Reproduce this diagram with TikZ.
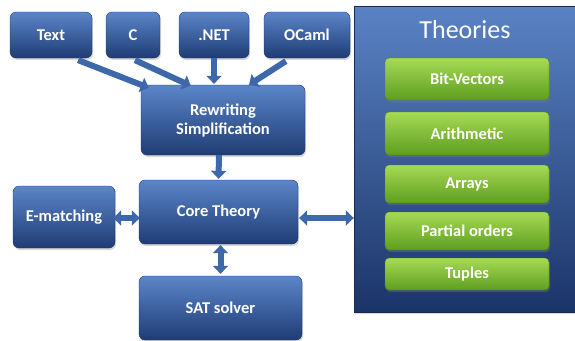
\documentclass[tikz,border=0pt]{standalone}
\usepackage{fontspec}
\setmainfont{Carlito}
\usetikzlibrary{arrows.meta,shadows,calc}
\definecolor{boxtop}{HTML}{5B86C9}
\definecolor{boxbot}{HTML}{1F3C74}
\definecolor{pantop}{HTML}{5A83C4}
\definecolor{panbot}{HTML}{1B3468}
\definecolor{grntop}{HTML}{A6DA55}
\definecolor{grnbot}{HTML}{5E9E1F}
\definecolor{arrblue}{HTML}{3D68AA}
\tikzset{
  blk/.style={rounded corners=6pt, top color=boxtop, bottom color=boxbot,
    draw=boxbot!80!black, line width=.3pt, text=white,
    font=\bfseries\fontsize{16.5}{19}\selectfont, align=center, inner sep=0pt,
    drop shadow={opacity=.3, shadow xshift=1pt, shadow yshift=-2pt}},
  grn/.style={rounded corners=4pt, top color=grntop, bottom color=grnbot,
    draw=grnbot!80!black, line width=.3pt, text=white,
    font=\bfseries\fontsize{16.5}{19}\selectfont, inner sep=0pt,
    minimum width=164pt,
    drop shadow={opacity=.35, shadow xshift=1pt, shadow yshift=-2pt}},
  fat/.style={arrblue, line width=6pt, -{Triangle[width=15pt,length=8pt]}},
  fatboth/.style={arrblue, line width=6pt, {Triangle[width=15pt,length=8pt]}-{Triangle[width=15pt,length=8pt]}}
}
\begin{document}
\begin{tikzpicture}[x=1pt,y=-1pt]
	\useasboundingbox[fill=white] (0,0) rectangle (575,340);
	% theories panel
	\node[rectangle, top color=pantop, bottom color=panbot, draw=panbot!80!black,
	  minimum width=226pt, minimum height=306pt, inner sep=0pt,
	  drop shadow={opacity=.3, shadow xshift=1pt, shadow yshift=-2pt}] (thy) at (467,159) {};
	\node[text=white, font=\fontsize{26}{30}\selectfont] (thytitle) at (465,30) {Theories};
	\node[grn, minimum height=42pt] (bv) at (467,79) {Bit-Vectors};
	\node[grn, minimum height=43pt] (arith) at (467,133.5) {Arithmetic};
	\node[grn, minimum height=38pt] (arr) at (467,184) {Arrays};
	\node[grn, minimum height=38pt] (po) at (467,231) {Partial orders};
	\node[grn, minimum height=32pt] (tup) at (467,274) {Tuples};
	% front ends
	\node[blk, minimum width=82pt, minimum height=46pt] (txt) at (51,35) {Text};
	\node[blk, minimum width=54pt, minimum height=46pt] (cc) at (133,35) {C};
	\node[blk, minimum width=70pt, minimum height=46pt] (net) at (214,35) {.NET};
	\node[blk, minimum width=86pt, minimum height=46pt] (ocaml) at (307,35) {OCaml};
	% core pipeline
	\node[blk, minimum width=164pt, minimum height=70pt] (rw) at (223,120) {Rewriting\\Simplification};
	\node[blk, minimum width=159pt, minimum height=64pt] (core) at (218.5,212) {Core Theory};
	\node[blk, minimum width=102pt, minimum height=62pt] (em) at (64,217) {E-matching};
	\node[blk, minimum width=163pt, minimum height=64pt] (sat) at (220.5,308) {SAT solver};
	% arrows
	\draw[fat] ($(txt.south east)+(-14,2)$) -- ($(rw.north west)+(8,3)$);
	\draw[fat] ($(cc.south)+(2,2)$) -- ($(rw.north west)+(50,1)$);
	\draw[fat] (net.south) -- ($(rw.north)+(-9,-1)$);
	\draw[fat] ($(ocaml.south west)+(22,3)$) -- ($(rw.north)+(26,0)$);
	\draw[fat] ($(rw.south)+(-4,0)$) -- ($(core.north)+(0,-1)$);
	\draw[fatboth] ($(em.east)+(-2,1)$) -- ($(core.west)+(1,6)$);
	\draw[fatboth] ($(core.south)+(2,1)$) -- ($(sat.north)+(0,-2)$);
	\draw[fatboth] ($(core.east)+(1,6)$) -- ($(thy.west)+(0,59)$);
\end{tikzpicture}
\end{document}
